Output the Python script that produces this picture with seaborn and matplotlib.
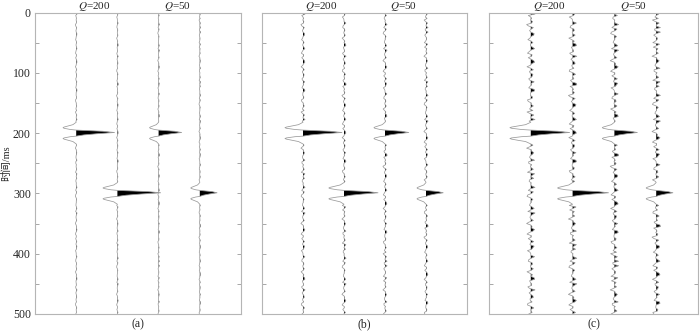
import numpy as np
import pandas as pd
import seaborn as sns
import matplotlib.pyplot as plt

# ---- data ----
# trace positions and events (trace no., time in ms)
trace_pos = [1, 2, 3, 4]
event_trace = [1, 2, 3, 4]
event_time = [200, 300, 200, 300]

# peak / side-lobe amplitudes (trace spacing = 1) for panels a, b, c
peak_a = [0.93, 1.05, 0.56, 0.42]
lobe_a = [0.32, 0.35, 0.22, 0.22]
peak_b = [0.95, 0.83, 0.58, 0.42]
lobe_b = [0.44, 0.37, 0.27, 0.22]
peak_c = [0.93, 0.86, 0.55, 0.40]
lobe_c = [0.50, 0.36, 0.29, 0.24]

# wavelet shape (time offset in ms, positive part, negative side lobes)
wav_dt = [-18, -14, -12, -10, -9, -8, -6, -5, -3, -1, 1, 3, 5, 6, 8, 9, 10, 12, 14, 18]
wav_pos = [0, 0, 0, 0, 0, 0, 0, 0, 0.7, 1.0, 0.55, 0.2, 0, 0, 0, 0, 0, 0, 0, 0]
wav_neg = [0, 0.25, 0.6, 0.92, 1.0, 0.92, 0.45, 0, 0, 0, 0, 0, 0, 0.45, 0.92, 1.0, 0.92, 0.6, 0.25, 0]

# background noise (two interleaved sample sets, one sample every 2.5 ms)
noise_even = [0.1, -0.2, 0.8, 0.0, -0.1, 0.3, -0.6, 0.1, 0.0, 0.5,
              -0.2, 0.1, 1.0, -0.3, 0.0, -0.1, 0.2, -0.8, 0.1, 0.4,
              0.0, -0.2, 0.1, 0.7, -0.1, 0.0, -0.5, 0.2, 0.1, -0.1,
              0.9, 0.0, -0.3, 0.1, 0.2, -0.1, 0.6, -0.7, 0.0, 0.1,
              -0.2, 0.3, 0.0, 1.0, -0.1, 0.1, -0.4, 0.0, 0.2, 0.5,
              -0.9, 0.1, 0.0, -0.1, 0.8, 0.2, -0.2, 0.0, 0.1, -0.6,
              0.4, 0.0, 0.1, -0.2, 0.0, 0.9, -0.1, 0.2, -0.3, 0.1,
              0.0, 0.6, -0.1, -0.7, 0.1, 0.0, 0.3, -0.2, 1.0, 0.0,
              -0.1, 0.2, -0.5, 0.1, 0.0, 0.7, -0.2, 0.1, -0.1, 0.4,
              0.0, -0.8, 0.2, 0.1, 0.9, -0.1, 0.0, -0.3, 0.5, 0.1, -0.2]
noise_odd = [0.2, -0.5, 0.9, -0.1, 0.4, -0.8, 0.1, 0.6, -0.3, -0.9,
             0.7, 0.0, -0.4, 1.0, -0.6, 0.3, -0.2, 0.8, -0.7, 0.1,
             0.5, -1.0, 0.2, 0.4, -0.3, 0.9, -0.5, -0.1, 0.6, -0.8,
             0.3, 0.7, -0.4, 0.0, 1.0, -0.6, 0.2, -0.9, 0.5, 0.1,
             -0.3, 0.8, -0.7, 0.4, -0.2, 0.6, -1.0, 0.3, 0.9, -0.4,
             0.1, -0.6, 0.7, -0.2, 0.5, -0.8, 0.0, 0.9, -0.5, 0.3,
             -0.1, 0.6, -0.9, 0.4, 0.8, -0.3, 0.2, -0.7, 1.0, -0.4,
             0.5, -0.2, 0.3, -0.8, 0.7, 0.1, -0.5, 0.9, -0.6, 0.2,
             0.4, -1.0, 0.6, -0.3, 0.8, 0.0, -0.7, 0.5, -0.1, 0.9,
             -0.4, 0.3, -0.6, 0.7, 0.2, -0.9, 0.6, -0.2, 0.4, -0.5, 0.8]
noise_level = [0.02, 0.05, 0.1]

panel_labels = ["(a)", "(b)", "(c)"]
titles = [r"$Q$=200", r"$Q$=50"]
title_x = [1.45, 3.45]

peaks = [peak_a, peak_b, peak_c]
lobes = [lobe_a, lobe_b, lobe_c]

sns.set_theme(style="ticks")
plt.rcParams['font.family'] = ['Liberation Serif', 'Noto Sans CJK SC', 'DejaVu Sans']
plt.rcParams['mathtext.fontset'] = 'stix'

fig = plt.figure(figsize=(7, 3.31), dpi=100)
rects = [[35/700, 17/331, 206/700, 301.5/331],
         [262/700, 17/331, 205/700, 301.5/331],
         [489/700, 17/331, 209/700, 301.5/331]]

noise_vals = np.ravel(np.column_stack([noise_even, noise_odd]))
noise_t = np.arange(len(noise_vals)) * 2.5

for p in range(3):
    ax = fig.add_axes(rects[p])
    rows = []
    for k in trace_pos:
        t = list(noise_t)
        a = list(np.roll(noise_vals, 47 * k) * noise_level[p])
        for i, tr in enumerate(event_trace):
            if tr != k:
                continue
            t0 = event_time[i]
            keep = [j for j in range(len(t)) if abs(t[j] - t0) > 18]
            t = [t[j] for j in keep]
            a = [a[j] for j in keep]
            for d, pp, nn in zip(wav_dt, wav_pos, wav_neg):
                t.append(t0 + d)
                a.append(peaks[p][i] * pp - lobes[p][i] * nn)
        order = np.argsort(t)
        t = np.array(t)[order]
        a = np.array(a)[order]
        rows.append(pd.DataFrame({"t": t, "x": k + a, "amp": a, "trace": k}))
    df = pd.concat(rows, ignore_index=True)

    sns.lineplot(data=df, x="x", y="t", units="trace", estimator=None, sort=False,
                 orient="y", color="#9a9a9a", lw=0.55, ax=ax)
    for k, g in df.groupby("trace"):
        ax.fill_betweenx(g["t"], k, g["x"], where=g["amp"] > 0, interpolate=True,
                         color="black", lw=0)

    ax.set_xlim(0, 5)
    ax.set_ylim(500, 0)
    ax.set_xticks([])
    ax.set_yticks(range(0, 501, 100))
    ax.set_yticks(range(50, 501, 100), minor=True)
    ax.tick_params(axis='y', which='both', direction='in', left=True, right=True,
                   length=3, color='#999999', width=0.6, labelsize=8.5, pad=3)
    for s in ax.spines.values():
        s.set_color('#b5b5b5')
        s.set_linewidth(0.8)
    if p == 0:
        ax.set_ylabel("时间/ms", fontsize=7.5, labelpad=1)
    else:
        ax.set_yticklabels([])
        ax.set_ylabel("")
    ax.set_xlabel(panel_labels[p], fontsize=8.5, labelpad=3)
    for tx, tt in zip(title_x, titles):
        ax.text(tx, -5, tt, ha='center', va='baseline', fontsize=8)

fig.savefig("out.png", dpi=100)
